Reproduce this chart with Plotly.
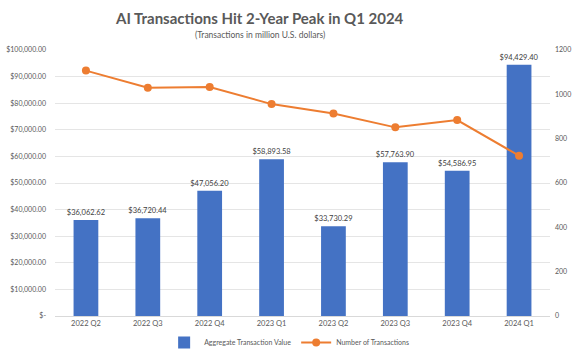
import plotly.graph_objects as go

categories = ["2022 Q2", "2022 Q3", "2022 Q4", "2023 Q1", "2023 Q2", "2023 Q3", "2023 Q4", "2024 Q1"]
aggregate_value = [36062.62, 36720.44, 47056.20, 58893.58, 33730.29, 57763.90, 54586.95, 94429.40]
num_transactions = [1107, 1030, 1033, 956, 914, 851, 884, 723]
left_ticks = [0, 10000, 20000, 30000, 40000, 50000, 60000, 70000, 80000, 90000, 100000]
left_tick_labels = ["$-"] + ["${:,.2f}".format(v) for v in left_ticks[1:]]
right_ticks = [0, 200, 400, 600, 800, 1000, 1200]

FONT = "Lato"
BLUE = "#4472C4"
ORANGE = "#ED7D31"

fig = go.Figure()
fig.add_trace(go.Bar(
    x=categories, y=aggregate_value, name="Aggregate Transaction Value",
    marker=dict(color=BLUE, line=dict(width=0)),
    text=["${:,.2f}".format(v) for v in aggregate_value],
    textposition="outside", cliponaxis=False, constraintext="none",
    textfont=dict(size=7.5, color="#404040", family=FONT),
))
fig.add_trace(go.Scatter(
    x=categories, y=num_transactions, name="Number of Transactions",
    yaxis="y2", mode="lines+markers",
    line=dict(color=ORANGE, width=2), marker=dict(color=ORANGE, size=8),
))

fig.update_layout(
    width=575, height=355,
    margin=dict(l=55, r=25, t=50, b=39, autoexpand=False),
    paper_bgcolor="white", plot_bgcolor="white",
    font=dict(family=FONT, color="#595959", size=7.5),
    bargap=0.6,
    annotations=[
        dict(text="<b>AI Transactions Hit 2-Year Peak in Q1 2024</b>", xref="paper", yref="paper",
             x=0.414, y=1.122, xanchor="center", yanchor="middle", showarrow=False,
             font=dict(size=15, color="#595959", family=FONT)),
        dict(text="(Transactions in million U.S. dollars)", xref="paper", yref="paper",
             x=0.414, y=1.056, xanchor="center", yanchor="middle", showarrow=False,
             font=dict(size=8.5, color="#595959", family=FONT)),
    ],
    xaxis=dict(showgrid=False, showline=True, linecolor="#D9D9D9", ticks="",
               tickfont=dict(size=7.5, color="#595959"), automargin=False),
    yaxis=dict(range=[0, 100000], tickvals=left_ticks, ticktext=left_tick_labels,
               showgrid=True, gridcolor="#E5E5E5", zeroline=False, automargin=False,
               tickfont=dict(size=7, color="#595959"), ticklabelstandoff=8),
    yaxis2=dict(range=[0, 1200], tickvals=right_ticks, overlaying="y", side="right",
                showgrid=False, zeroline=False, automargin=False,
                tickfont=dict(size=7, color="#595959"), ticklabelstandoff=4),
    legend=dict(orientation="h", x=0.473, xanchor="center", y=-0.1, yanchor="middle",
                font=dict(size=7, color="#595959"), itemwidth=30),
)

fig.write_html("out.html", config={"displayModeBar": False},
               post_script="document.body.style.margin='0';document.body.style.overflow='hidden';")
